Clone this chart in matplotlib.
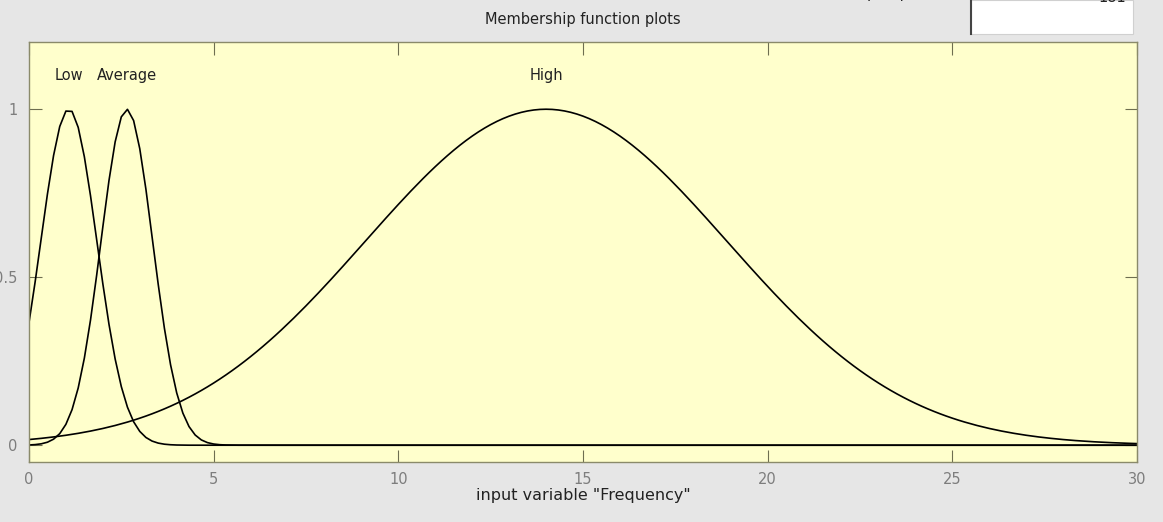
import numpy as np
import matplotlib
matplotlib.use('Agg')
import matplotlib.pyplot as plt

# membership functions of input "Frequency" (gaussmf params)
mf_names = ["Low", "Average", "High"]
mf_sigma = [0.76, 0.70, 4.9]
mf_center = [1.08, 2.65, 14.0]
x_range = [0, 30]
n_points = 181

xticks = [0, 5, 10, 15, 20, 25, 30]
yticks = [0, 0.5, 1]
ytick_labels = ["0", "0.5", "1"]

bg = "#e6e6e6"
tick_col = "#7d7d7d"
fs = 10.5

fig = plt.figure(figsize=(11.63, 5.22), dpi=100, facecolor=bg)
ax = fig.add_axes([0.0249, 0.1149, 0.9528, 0.8046])
ax.set_facecolor("#ffffcc")

x = np.linspace(x_range[0], x_range[1], n_points)
for name, s, c in zip(mf_names, mf_sigma, mf_center):
    y = np.exp(-(x - c)**2 / (2. * s**2))
    ax.plot(x, y, color="black", lw=1.2)
    ax.text(c, 1.1, name, ha="center", va="center", fontsize=fs, color="#222222")

ax.set_xlim(x_range)
ax.set_ylim(-0.05, 1.2)
ax.set_xticks(xticks)
ax.set_yticks(yticks)
ax.set_yticklabels(ytick_labels)
ax.tick_params(direction="in", length=9, width=0.8, color="#6e6e50",
               top=True, right=True, labelsize=fs, labelcolor=tick_col)
ax.tick_params(axis="x", pad=7)
ax.tick_params(axis="y", pad=8)
for sp in ax.spines.values():
    sp.set_color("#8a8a6a")
    sp.set_linewidth(1.0)

ax.set_xlabel('input variable "Frequency"', fontsize=11.5, color="#222222", labelpad=1)
fig.text(0.5013, 0.962, "Membership function plots", ha="center", va="center",
         fontsize=fs, color="#222222")

# bits of the GUI cut off at the top of the screenshot
fig.text(867 / 1163., 1.004, "plot points:", ha="left", va="baseline",
         fontsize=fs, color="#222222")
box = plt.Rectangle((971 / 1163., 1 - 34 / 522.), 162 / 1163., 34 / 522.,
                    transform=fig.transFigure, facecolor="white",
                    edgecolor="#d0d0d0", lw=0.8)
fig.patches.append(box)
fig.add_artist(plt.Line2D([971 / 1163., 971 / 1163.], [1 - 34 / 522., 1.0],
                          transform=fig.transFigure, color="#444444", lw=1.5))
fig.text(1126 / 1163., 1 - 1.5 / 522., "181", ha="right", va="baseline",
         fontsize=fs, color="#222222")

plt.savefig("out.png", dpi=100, facecolor=bg)
